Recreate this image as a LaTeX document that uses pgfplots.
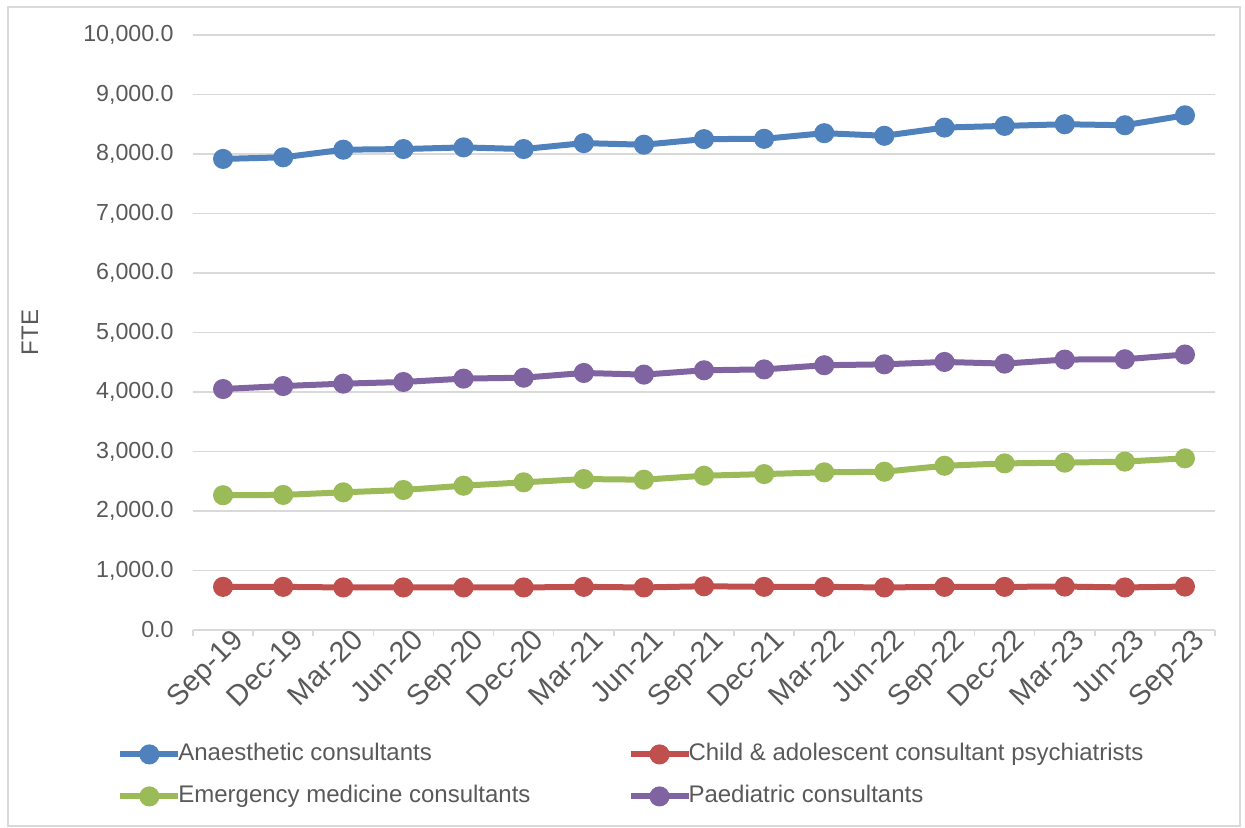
\documentclass[border=0pt]{standalone}
\usepackage{pgfplots}
\usepackage{pgfplotstable}
\pgfplotsset{compat=1.18}
\usepackage{fontspec}
\setmainfont{Liberation Sans}

\definecolor{txt}{HTML}{595959}
\definecolor{gridc}{HTML}{D9D9D9}
\definecolor{cblue}{HTML}{4F81BD}
\definecolor{cred}{HTML}{C0504D}
\definecolor{cgreen}{HTML}{9BBB59}
\definecolor{cpurple}{HTML}{8064A2}

\newcommand{\chartfont}{\fontsize{12pt}{14pt}\selectfont}
\newcommand{\yfont}{\fontsize{11.6pt}{14pt}\selectfont}
\newcommand{\xfont}{\fontsize{14.5pt}{17pt}\selectfont}

% Consultant FTE by quarter
\pgfplotstableread{
idx anaes child emerg paed
0  7917 725 2265 4050
1  7944 725 2270 4100
2  8072 715 2314 4140
3  8083 715 2353 4168
4  8111 715 2425 4225
5  8083 715 2482 4240
6  8183 725 2537 4320
7  8156 715 2526 4292
8  8250 735 2593 4365
9  8255 725 2620 4380
10 8350 725 2650 4450
11 8306 715 2660 4465
12 8444 725 2760 4505
13 8472 725 2800 4477
14 8500 730 2812 4545
15 8483 715 2830 4550
16 8650 730 2885 4630
}\fte

\begin{document}
\chartfont
\begin{tikzpicture}
\useasboundingbox (-96.5pt,-99pt) rectangle (526pt,315pt);
\draw[gridc, line width=0.75pt] (-92.5pt,-98pt) rectangle (523.5pt,311.5pt);
\begin{axis}[
  at={(0pt,0pt)}, anchor=south west,
  scale only axis, width=511pt, height=297.5pt,
  xmin=-0.5, xmax=16.5, ymin=0, ymax=10000,
  axis lines*=left,
  axis line style={-},
  y axis line style={draw=none},
  x axis line style={draw=gridc, line width=0.75pt},
  xtick=data,
  xticklabels={Sep-19,Dec-19,Mar-20,Jun-20,Sep-20,Dec-20,Mar-21,Jun-21,Sep-21,Dec-21,Mar-22,Jun-22,Sep-22,Dec-22,Mar-23,Jun-23,Sep-23},
  minor xtick={-0.5,0.5,...,16.5},
  tick align=outside,
  major tick length=0pt,
  minor tick length=3pt,
  minor x tick style={draw=gridc, line width=0.75pt},
  ytick={0,1000,...,10000},
  scaled y ticks=false,
  ymajorgrids,
  major grid style={draw=gridc, line width=0.75pt},
  every tick label/.append style={text=txt},
  yticklabel style={font=\yfont, anchor=east, xshift=-5.5pt},
  xticklabel style={font=\xfont, rotate=45, anchor=north east, inner sep=0pt, xshift=3.5pt, yshift=-1.5pt},
  /pgf/number format/assume math mode=true,
  yticklabel={\pgfmathprintnumber[fixed, fixed zerofill, precision=1, 1000 sep={,}]{\tick}},
  ylabel={FTE},
  every axis y label/.style={at={(axis description cs:-0.1595,0.5)}, rotate=90, anchor=center, font=\chartfont, text=txt},
  legend columns=2,
  legend style={at={(axis description cs:-0.0744,-0.1849)}, anchor=north west, draw=none, fill=none, inner sep=0pt,
    font=\chartfont, text=txt,
    nodes={inner sep=1pt, text height=9pt, text depth=3pt},
    row sep=7pt,
    /tikz/every odd column/.append style={column sep=-2.5pt},
    /tikz/every even column/.append style={column sep=47.5pt},
    cells={anchor=west}},
  legend image code/.code={\draw[mark repeat=2, mark phase=2] plot coordinates {(0pt,0pt) (14.5pt,0pt) (29pt,0pt)};},
  every axis plot/.append style={line width=3pt, mark=*, mark size=3.5pt, mark options={solid, line width=0pt}},
]
\addplot[cblue, mark options={fill=cblue, draw=cblue}] table[x=idx, y=anaes] {\fte};
\addlegendentry{Anaesthetic consultants}
\addplot[cred, mark options={fill=cred, draw=cred}] table[x=idx, y=child] {\fte};
\addlegendentry{Child \& adolescent consultant psychiatrists}
\addplot[cgreen, mark options={fill=cgreen, draw=cgreen}] table[x=idx, y=emerg] {\fte};
\addlegendentry{Emergency medicine consultants}
\addplot[cpurple, mark options={fill=cpurple, draw=cpurple}] table[x=idx, y=paed] {\fte};
\addlegendentry{Paediatric consultants}
\end{axis}
\end{tikzpicture}
\end{document}
